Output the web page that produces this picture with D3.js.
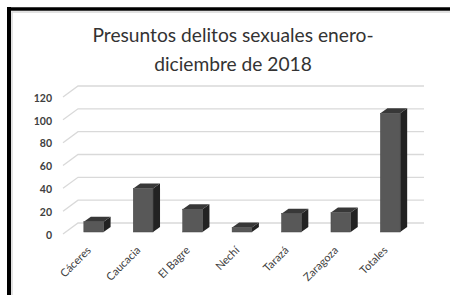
<!DOCTYPE html>
<html>
<head>
<meta charset="utf-8">
<script src="https://cdn.jsdelivr.net/npm/d3@7"></script>
<style>
  body { margin: 0; background: #fff; }
  svg { display: block; font-family: Lato, "Liberation Sans", Arial, sans-serif; }
</style>
</head>
<body>
<svg id="chart" width="450" height="295"></svg>
<script>
var categories = ["Cáceres", "Caucacia", "El Bagre", "Nechí", "Tarazá", "Zaragoza", "Totales"];
var values = [9, 38, 20, 4, 16, 17, 104];
var yTicks = [0, 20, 40, 60, 80, 100, 120];
var titleLines = ["Presuntos delitos sexuales enero-", "diciembre de 2018"];

var svg = d3.select("#chart");

// frame like the screenshot: thick black on top/left, light inner border
svg.append("rect").attr("x", 12).attr("y", 12).attr("width", 450).attr("height", 300)
    .attr("fill", "none").attr("stroke", "#d9d9d9").attr("stroke-width", 1.5);
svg.append("line").attr("x1", 9).attr("x2", 9).attr("y1", 7).attr("y2", 295)
    .attr("stroke", "#000").attr("stroke-width", 4);
svg.append("line").attr("x1", 7).attr("x2", 450).attr("y1", 9).attr("y2", 9)
    .attr("stroke", "#000").attr("stroke-width", 3.5);

// title
svg.append("g").selectAll("text")
    .data(titleLines)
    .enter().append("text")
    .attr("x", 233)
    .attr("y", (d, i) => 42 + i * 29)
    .attr("text-anchor", "middle")
    .attr("font-size", 19.2)
    .attr("fill", "#333")
    .text(d => d);

var depth = {dx: 15, dy: -11};   // floor/wall depth
var bar3d = {dx: 7, dy: -5};     // bar depth
var barShift = {dx: 3, dy: -2};  // bars sit a bit behind the front edge

var x = d3.scaleBand().domain(categories).range([66, 412]).paddingInner(0.6).paddingOuter(0.3);
var y = d3.scaleLinear().domain([0, 120]).range([234, 97]);

// gridlines on the back wall with diagonal from front edge
svg.append("g").selectAll("path")
    .data(yTicks)
    .enter().append("path")
    .attr("d", t => "M63," + y(t) + "L" + (63 + depth.dx) + "," + (y(t) + depth.dy) + "L424," + (y(t) + depth.dy))
    .attr("fill", "none")
    .attr("stroke", "#d9d9d9")
    .attr("stroke-width", 1.3);

// y tick labels
svg.append("g").selectAll("text")
    .data(yTicks)
    .enter().append("text")
    .attr("x", 52)
    .attr("y", t => y(t) + 1)
    .attr("dy", "0.35em")
    .attr("text-anchor", "end")
    .attr("font-size", 10.5)
    .attr("font-weight", "bold")
    .attr("fill", "#404040")
    .text(t => t);

// bars
var bars = svg.append("g").selectAll("g")
    .data(categories.map((c, i) => ({cat: c, val: values[i]})))
    .enter().append("g");

var bw = x.bandwidth();
var bx = d => x(d.cat) + barShift.dx;
var by0 = y(0) + barShift.dy;
var byt = d => y(d.val) + barShift.dy;

// side
bars.append("path")
    .attr("d", d => "M" + (bx(d) + bw) + "," + by0 +
        "L" + (bx(d) + bw) + "," + byt(d) +
        "L" + (bx(d) + bw + bar3d.dx) + "," + (byt(d) + bar3d.dy) +
        "L" + (bx(d) + bw + bar3d.dx) + "," + (by0 + bar3d.dy) + "Z")
    .attr("fill", "#222");
// top
bars.append("path")
    .attr("d", d => "M" + bx(d) + "," + byt(d) +
        "L" + (bx(d) + bar3d.dx) + "," + (byt(d) + bar3d.dy) +
        "L" + (bx(d) + bw + bar3d.dx) + "," + (byt(d) + bar3d.dy) +
        "L" + (bx(d) + bw) + "," + byt(d) + "Z")
    .attr("fill", "#383838");
// front
bars.append("rect")
    .attr("x", bx)
    .attr("y", byt)
    .attr("width", bw)
    .attr("height", d => by0 - byt(d))
    .attr("fill", "#585858")
    .attr("stroke", "#444")
    .attr("stroke-width", 0.5);

// x labels
svg.append("g").selectAll("text")
    .data(categories)
    .enter().append("text")
    .attr("transform", c => "translate(" + (x(c) + barShift.dx + bw / 2 - 2) + ",251) rotate(-45)")
    .attr("text-anchor", "end")
    .attr("font-size", 11)
    .attr("fill", "#404040")
    .text(c => c);
</script>
</body>
</html>
